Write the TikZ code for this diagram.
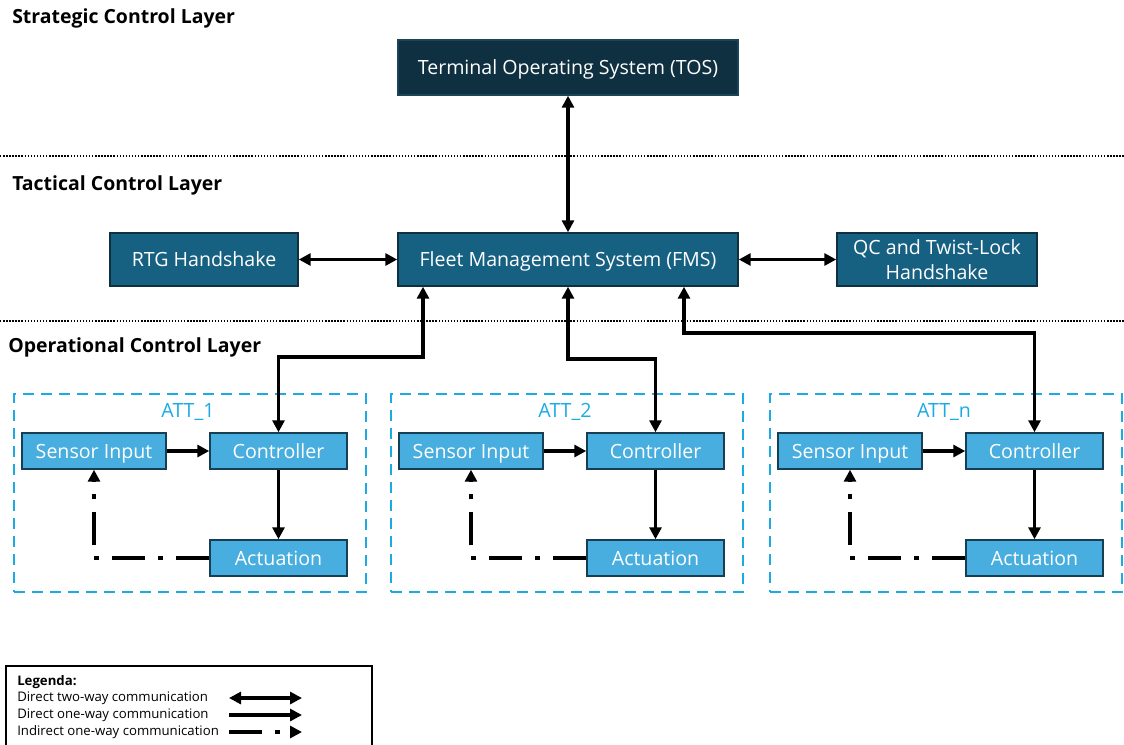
\documentclass[tikz,border=0pt]{standalone}
\usepackage{fontspec}
\setmainfont{Open Sans}
\usetikzlibrary{arrows.meta,calc}

\definecolor{tosfill}{HTML}{0E3041}
\definecolor{tosline}{HTML}{1B4459}
\definecolor{midfill}{HTML}{166082}
\definecolor{midline}{HTML}{0E3041}
\definecolor{litefill}{HTML}{47AEDF}
\definecolor{liteline}{HTML}{163F54}
\definecolor{attblue}{HTML}{1AAAE4}

\tikzset{
  tip/.tip={Triangle[length=9pt,width=9pt]},
  layertitle/.style={anchor=west, inner sep=0pt, font=\bfseries\fontsize{14.6}{17}\selectfont},
  sepline/.style={line width=1.1pt, dash pattern=on 1.1pt off 1.2pt},
  boxbase/.style={inner sep=0pt, align=center, text=white, line width=1.1pt,
    text height=10.5pt, text depth=0pt},
  darkbox/.style={boxbase, draw=tosline, fill=tosfill, minimum width=255pt, minimum height=41.25pt,
    font=\fontsize{14.7}{18.5}\selectfont},
  midbox/.style={boxbase, draw=midline, fill=midfill, minimum height=39.75pt,
    font=\fontsize{14.7}{18.5}\selectfont},
  litebox/.style={boxbase, draw=liteline, fill=litefill, minimum height=27pt,
    font=\fontsize{14.7}{18}\selectfont},
  attframe/.style={draw=attblue, line width=1.5pt, dash pattern=on 8.5pt off 5pt,
    minimum width=264pt, minimum height=148.5pt, inner sep=0pt},
  attlabel/.style={text=attblue, inner sep=0pt, font=\fontsize{14.7}{18}\selectfont},
  link/.style={line width=2.6pt},
  twoway/.style={link, tip-tip},
  oneway/.style={link, -tip},
  indirect/.style={link, dash pattern=on 24.75pt off 9.75pt on 3.75pt off 9.75pt, -tip},
  legtext/.style={anchor=west, inner sep=0pt, font=\fontsize{9.9}{12}\selectfont},
}

\begin{document}
\begin{tikzpicture}[x=0.75pt, y=-0.75pt]
\useasboundingbox (0,0) rectangle (1124,744);

% layer titles and separators
\node[layertitle] (strat) at (12,18) {Strategic Control Layer};
\node[layertitle] (tact) at (12,185) {Tactical Control Layer};
\node[layertitle] (oper) at (8,347) {Operational Control Layer};
\draw[sepline] (0,156) -- (1124,156);
\draw[sepline] (0,321) -- (1124,321);

% strategic and tactical systems
\node[darkbox] (tos) at (568,67.5) {Terminal Operating System (TOS)};
\node[midbox, minimum width=255pt] (fms) at (568,259.5) {Fleet Management System (FMS)};
\node[midbox, minimum width=141pt] (rtg) at (204,259.5) {RTG Handshake};
\node[midbox, minimum width=150pt, text height=, text depth=] (qc) at (937,259.5) {QC and Twist-Lock\\Handshake};

\draw[twoway] (tos) -- (fms);
\draw[twoway] (rtg) -- (fms);
\draw[twoway] (fms) -- (qc);

% one block per terminal tractor
\foreach \i/\dx/\lab in {1/0/ATT\_1, 2/377/ATT\_2, n/756/ATT\_n} {
  \node[attframe] (att\i) at (190+\dx,493) {};
  \node[attlabel] (lab\i) at (188+\dx,412) {\lab};
  \node[litebox, minimum width=108pt] (s\i) at (94+\dx,451) {Sensor Input};
  \node[litebox, minimum width=102.75pt] (c\i) at (278.5+\dx,451) {Controller};
  \node[litebox, minimum width=102.75pt] (a\i) at (278.5+\dx,558) {Actuation};
  \draw[oneway] (s\i) -- (c\i);
  \draw[oneway] (c\i) -- (a\i);
  \draw[indirect] (a\i.west) -| (s\i.south);
}

% controllers to fleet management
\draw[twoway] (c1.north) -- (c1.north |- 0,357) -| ($(fms.south)+(-145,0)$);
\draw[twoway] (c2.north) -- (c2.north |- 0,359) -| (fms.south);
\draw[twoway] (cn.north) -- (cn.north |- 0,333) -| ($(fms.south)+(116,0)$);

% legend
\draw[line width=1.2pt] (6,666) rectangle (372,752);
\node[legtext, font=\bfseries\fontsize{9.9}{12}\selectfont] (leghead) at (17,682) {Legenda:};
\node[legtext] (leg1) at (17,698) {Direct two-way communication};
\node[legtext] (leg2) at (17,715) {Direct one-way communication};
\node[legtext] (leg3) at (17,732) {Indirect one-way communication};
\coordinate (l1a) at (229,698); \coordinate (l1b) at (302,698);
\coordinate (l2a) at (229,715); \coordinate (l2b) at (302,715);
\coordinate (l3a) at (229,732); \coordinate (l3b) at (302,732);
\draw[twoway] (l1a) -- (l1b);
\draw[oneway] (l2a) -- (l2b);
\draw[indirect] (l3a) -- (l3b);
\end{tikzpicture}
\end{document}
